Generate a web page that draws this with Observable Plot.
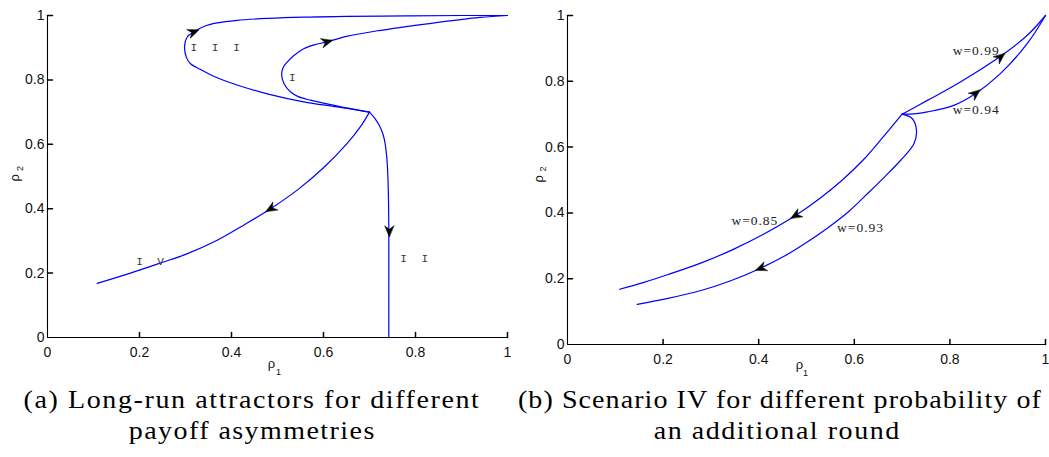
<!DOCTYPE html>
<html><head><meta charset="utf-8">
<script src="https://cdn.jsdelivr.net/npm/d3@7"></script>
<script src="https://cdn.jsdelivr.net/npm/@observablehq/plot@0.6"></script>
<style>
body{margin:0;background:#fff;}
#wrap{position:relative;width:1049px;height:457px;overflow:hidden;background:#fff;}
.panel{position:absolute;top:0;}
.cap{position:absolute;font-family:"Liberation Serif","Times New Roman","DejaVu Serif",serif;font-size:25px;color:#000;white-space:nowrap;line-height:31px;transform-origin:50% 50%;}
</style></head><body><div id="wrap"></div>
<script>
// ---------- Panel (a): long-run attractors ----------
const aIII_r1 = [0.70, 0.63, 0.557, 0.48, 0.412, 0.36, 0.333, 0.311, 0.302, 0.298, 0.304, 0.318, 0.340, 0.369, 0.412, 0.478, 0.557, 0.65, 0.78, 0.90, 1.0];
const aIII_r2 = [0.70, 0.716, 0.732, 0.756, 0.784, 0.812, 0.832, 0.850, 0.870, 0.905, 0.934, 0.949, 0.966, 0.977, 0.985, 0.991, 0.995, 0.997, 0.999, 1.0, 1.0];
const aI_r1 = [0.70, 0.65, 0.60, 0.572, 0.545, 0.528, 0.514, 0.509, 0.512, 0.521, 0.535, 0.557, 0.580, 0.608, 0.65, 0.72, 0.83, 0.94, 1.0];
const aI_r2 = [0.70, 0.713, 0.728, 0.737, 0.748, 0.763, 0.789, 0.815, 0.838, 0.855, 0.875, 0.897, 0.909, 0.918, 0.935, 0.953, 0.975, 0.994, 1.0];
const aIV_r1 = [0.70, 0.68, 0.651, 0.60, 0.545, 0.485, 0.43, 0.369, 0.30, 0.247, 0.18, 0.108];
const aIV_r2 = [0.70, 0.654, 0.602, 0.527, 0.46, 0.40, 0.352, 0.302, 0.258, 0.232, 0.200, 0.168];
const aII_r1 = [0.70, 0.712, 0.723, 0.730, 0.734, 0.737, 0.739, 0.741, 0.742, 0.742, 0.742];
const aII_r2 = [0.70, 0.680, 0.654, 0.628, 0.602, 0.568, 0.53, 0.45, 0.33, 0.15, 0.0];
// arrowheads: position and direction of travel
const aArrowX = [0.318, 0.608, 0.485, 0.743];
const aArrowY = [0.949, 0.918, 0.400, 0.330];
const aArrowDX = [0.05, 0.08, -0.116, 0];
const aArrowDY = [0.028, 0.03, -0.098, -1];
// scenario labels (roman numerals drawn glyph by glyph)
const aLabelText = ["I", "I", "I", "I", "I", "V", "I", "I"];
const aLabelX = [0.318, 0.364, 0.411, 0.532, 0.200, 0.246, 0.774, 0.820];
const aLabelY = [0.902, 0.902, 0.902, 0.809, 0.237, 0.237, 0.244, 0.244];

// ---------- Panel (b): scenario IV for different w ----------
const b99_r1 = [0.70, 0.753, 0.822, 0.899, 0.962, 1.0];
const b99_r2 = [0.70, 0.742, 0.798, 0.869, 0.94, 1.0];
const b94_r1 = [0.70, 0.725, 0.753, 0.808, 0.854, 0.906, 0.962, 1.0];
const b94_r2 = [0.70, 0.701, 0.707, 0.727, 0.763, 0.824, 0.915, 1.0];
const b85_r1 = [0.70, 0.66, 0.62, 0.575, 0.527, 0.477, 0.41, 0.348, 0.28, 0.209, 0.16, 0.109];
const b85_r2 = [0.70, 0.630, 0.563, 0.500, 0.443, 0.392, 0.335, 0.290, 0.248, 0.212, 0.189, 0.168];
const b93_r1 = [0.70, 0.721, 0.730, 0.725, 0.697, 0.665, 0.63, 0.589, 0.545, 0.50, 0.453, 0.404, 0.34, 0.279, 0.21, 0.146];
const b93_r2 = [0.70, 0.687, 0.651, 0.611, 0.560, 0.512, 0.462, 0.405, 0.355, 0.310, 0.268, 0.232, 0.193, 0.164, 0.140, 0.122];
const bArrowX = [0.906, 0.854, 0.477, 0.404];
const bArrowY = [0.874, 0.763, 0.392, 0.232];
const bArrowDX = [0.056, 0.052, -0.129, -0.125];
const bArrowDY = [0.066, 0.061, -0.11, -0.07];
const bLabelText = ["w=0.99", "w=0.94", "w=0.85", "w=0.93"];
const bLabelX = [0.855, 0.855, 0.392, 0.613];
const bLabelY = [0.894, 0.714, 0.377, 0.354];

const tickValues = [0, 0.2, 0.4, 0.6, 0.8, 1];
const innerTicks = [0.2, 0.4, 0.6, 0.8, 1];

const zipPts = (xs, ys) => xs.map((x, i) => ({x, y: ys[i]}));

const tickShape = {draw(ctx, l) { ctx.moveTo(0, 0); ctx.lineTo(0, -l); }};
const headShape = {draw(ctx, l) {
  const w = l * 0.42;
  ctx.moveTo(0, -l); ctx.lineTo(w, 0); ctx.lineTo(0, -l * 0.32); ctx.lineTo(-w, 0); ctx.closePath();
}};

const serifFont = "'Liberation Serif', 'Times New Roman', 'DejaVu Serif', serif";

function makePanel(cfg) {
  const {width, height, mt, mr, mb, ml, curves, arrows, labels, labelFont, labelSize, labelFill, axLab} = cfg;
  const kx = width - ml - mr, ky = height - mt - mb;
  const arrowData = arrows.x.map((x, i) => ({x, y: arrows.y[i], dx: arrows.dx[i], dy: arrows.dy[i]}));
  const labelData = labels.text.map((t, i) => ({t, x: labels.x[i], y: labels.y[i]}));
  return Plot.plot({
    width, height, marginTop: mt, marginRight: mr, marginBottom: mb, marginLeft: ml,
    style: {fontFamily: "'Liberation Sans', Arial, sans-serif", fontSize: "14px", background: "white", overflow: "visible"},
    x: {domain: [0, 1]},
    y: {domain: [0, 1]},
    marks: [
      ...curves.map(c => Plot.line(zipPts(c[0], c[1]), {x: "x", y: "y", curve: "catmull-rom", stroke: "#0000ff", strokeWidth: 1.2})),
      Plot.ruleX([0], {stroke: "#000", strokeWidth: 1.1}),
      Plot.ruleY([0], {stroke: "#000", strokeWidth: 1.1}),
      Plot.vector(innerTicks, {x: d => d, y: d => 0, length: 5, rotate: 0, anchor: "start", shape: tickShape, stroke: "#000"}),
      Plot.vector(innerTicks, {x: d => 0, y: d => d, length: 5, rotate: 90, anchor: "start", shape: tickShape, stroke: "#000"}),
      Plot.axisX(tickValues, {tickSize: 0, tickPadding: 10, tickFormat: d => `${d}`, label: null, fill: "#111"}),
      Plot.axisY(tickValues, {tickSize: 0, tickPadding: 3, tickFormat: d => `${d}`, label: null, fill: "#111"}),
      Plot.vector(arrowData, {
        x: "x", y: "y", length: 11, anchor: "middle", shape: headShape, fill: "#000", stroke: "#000", strokeWidth: 0.5,
        rotate: d => Math.atan2(d.dx * kx, d.dy * ky) * 180 / Math.PI
      }),
      Plot.text(labelData, {x: "x", y: "y", text: "t", fontFamily: labelFont, fontSize: labelSize, fill: labelFill, ariaDescription: "plotlabels"}),
      Plot.text(["ρ"], {text: d => d, frameAnchor: "bottom", dx: axLab.x1[0], dy: axLab.x1[1], fontSize: 13, fill: "#111"}),
      Plot.text(["1"], {text: d => d, frameAnchor: "bottom", dx: axLab.x1[2], dy: axLab.x1[3], fontSize: 9, fill: "#111"}),
      Plot.text(["ρ"], {text: d => d, frameAnchor: "left", rotate: -90, dx: axLab.y1[0], dy: axLab.y1[1], fontSize: 13, fill: "#111"}),
      Plot.text(["2"], {text: d => d, frameAnchor: "left", rotate: -90, dx: axLab.y1[2], dy: axLab.y1[3], fontSize: 9, fill: "#111"})
    ]
  });
}

const wrap = document.getElementById("wrap");

const pa = makePanel({
  width: 520, height: 370, mt: 15, mr: 13, mb: 33, ml: 47,
  curves: [[aIII_r1, aIII_r2], [aI_r1, aI_r2], [aIV_r1, aIV_r2], [aII_r1, aII_r2]],
  arrows: {x: aArrowX, y: aArrowY, dx: aArrowDX, dy: aArrowDY},
  labels: {text: aLabelText, x: aLabelX, y: aLabelY},
  labelFont: "'Liberation Mono', 'Courier New', 'DejaVu Sans Mono', monospace", labelSize: 11, labelFill: "#333",
  axLab: {x1: [-6, 30, 1, 37], y1: [-33, 5, -27.5, -5.5]}
});
pa.classList.add("panel");
pa.style.left = "0px";
wrap.appendChild(pa);

const pb = makePanel({
  width: 524, height: 370, mt: 15, mr: 4, mb: 26, ml: 42,
  curves: [[b99_r1, b99_r2], [b94_r1, b94_r2], [b85_r1, b85_r2], [b93_r1, b93_r2]],
  arrows: {x: bArrowX, y: bArrowY, dx: bArrowDX, dy: bArrowDY},
  labels: {text: bLabelText, x: bLabelX, y: bLabelY},
  labelFont: serifFont, labelSize: 13.5, labelFill: "#222",
  axLab: {x1: [-7, 24, -1, 31], y1: [-29, 2.5, -24, -8.5]}
});
pb.classList.add("panel");
pb.style.left = "525px";
wrap.appendChild(pb);
d3.select(pb).selectAll('g[aria-description="plotlabels"] text').attr("letter-spacing", "1px");

// ---------- captions ----------
const captions = [
  {text: "(a) Long-run attractors for different", cx: 252, base: 408, w: 457},
  {text: "payoff asymmetries", cx: 252, base: 439, w: 247},
  {text: "(b) Scenario IV for different probability of", cx: 780, base: 408, w: 524},
  {text: "an additional round", cx: 777, base: 439, w: 247}
];
for (const c of captions) {
  const el = document.createElement("div");
  el.className = "cap";
  el.textContent = c.text;
  wrap.appendChild(el);
  const natural = el.getBoundingClientRect().width;
  const s = Math.min(c.w / natural, 1.12);
  const ls = (c.w / s - natural) / c.text.length;
  el.style.letterSpacing = ls + "px";
  const w = el.getBoundingClientRect().width;
  el.style.left = (c.cx - w / 2) + "px";
  el.style.top = (c.base - 24.5) + "px";
  el.style.transform = `scaleX(${s})`;
}
</script></body></html>
